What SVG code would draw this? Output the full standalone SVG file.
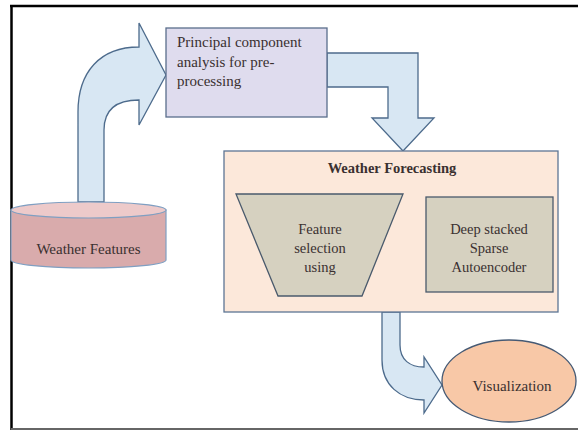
<svg xmlns="http://www.w3.org/2000/svg" width="578" height="430" viewBox="0 0 578 430">
<style>
  text { font-family: "Liberation Serif", "Times New Roman", serif; fill: #3a3030; font-size: 14.5px; }
  .c { text-anchor: middle; }
  .bold { font-weight: bold; }
  .blk { fill: #d2d5ad; }
  .bigarrow { fill: #d8e7f3; stroke: #4d6b8c; stroke-width: 1.3; stroke-linejoin: miter; }
  .tan { fill: #d6d1c0; stroke: #4a5a6c; stroke-width: 1.3; }
</style>
<defs>
  <marker id="ah" markerWidth="10" markerHeight="8" refX="9" refY="4" orient="auto" markerUnits="userSpaceOnUse">
    <path d="M0,0 L10,4 L0,8 Z" fill="#111"/>
  </marker>
</defs>
<rect x="0" y="0" width="578" height="430" fill="#ffffff"/>
<!-- frame -->
<g id="frame">
  <line x1="10" y1="6" x2="578" y2="6" stroke="#000" stroke-width="2.5"/>
  <line x1="11.5" y1="5" x2="11.5" y2="430" stroke="#000" stroke-width="2.5"/>
  <line x1="11" y1="429" x2="578" y2="429" stroke="#666" stroke-width="2"/>
</g>

<g id="connectors">
  <path class="bigarrow" d="M78,202 L78,112 C78,72 100,47 139,47 L139,23 L166,75 L139,125 L139,100 C116,100 104,110 104,130 L104,202 Z"/>
  <path class="bigarrow" d="M327,53 L418,53 L418,118 L434,118 L403,151 L372,118 L388,118 L388,87 L327,87 Z"/>
  <path class="bigarrow" d="M382,312 L382,360 C382,385 400,400 424,400 L424,413 L442,385 L424,357 L424,367 C410,367 400,360 400,345 L400,312 Z"/>
  <line x1="382" y1="244" x2="426" y2="244" stroke="#111" stroke-width="1.5" marker-end="url(#ah)"/>
</g>

<g id="cylinder">
  <path d="M11,210 L11,260 A77.5,8 0 0 0 166,260 L166,210 Z" fill="#d9abac" stroke="#7f9fc2" stroke-width="1.2"/>
  <ellipse cx="88.5" cy="210" rx="77.5" ry="8" fill="#edcaca" stroke="#7f9fc2" stroke-width="1.2"/>
  <text class="c" x="88.5" y="254" style="font-size:15px">Weather Features</text>
</g>

<g id="pca">
  <rect x="166" y="28" width="161" height="89" fill="#dfdcee" stroke="#5a6e8c" stroke-width="1.3"/>
  <text x="177" y="47" style="font-size:15px">Principal component</text>
  <text x="177" y="66.5" style="font-size:15px">analysis for pre-</text>
  <text x="177" y="86" style="font-size:15px">processing</text>
</g>

<g id="forecasting">
  <rect x="224" y="151" width="334" height="161" fill="#fce8da" stroke="#5d7594" stroke-width="1.3"/>
  <text class="c bold" x="392" y="173">Weather Forecasting</text>
</g>

<g id="feature-selection">
  <polygon class="tan" points="236,194 403,194 362,296 278,296"/>
  <text class="c" x="320" y="234">Feature</text>
  <text class="c" x="320" y="253">selection</text>
  <text class="c" x="320" y="272">using</text>
</g>

<g id="autoencoder">
  <rect class="tan" x="426" y="197" width="127" height="95"/>
  <text class="c" x="489" y="234">Deep stacked</text>
  <text class="c" x="489" y="253">Sparse</text>
  <text class="c" x="489" y="272">Autoencoder</text>
</g>

<g id="visualization">
  <ellipse cx="509" cy="381" rx="67" ry="41" fill="#f8c8a7" stroke="#465a74" stroke-width="1.3"/>
  <text class="c" x="512" y="391" style="font-size:15px">Visualization</text>
</g>
</svg>
